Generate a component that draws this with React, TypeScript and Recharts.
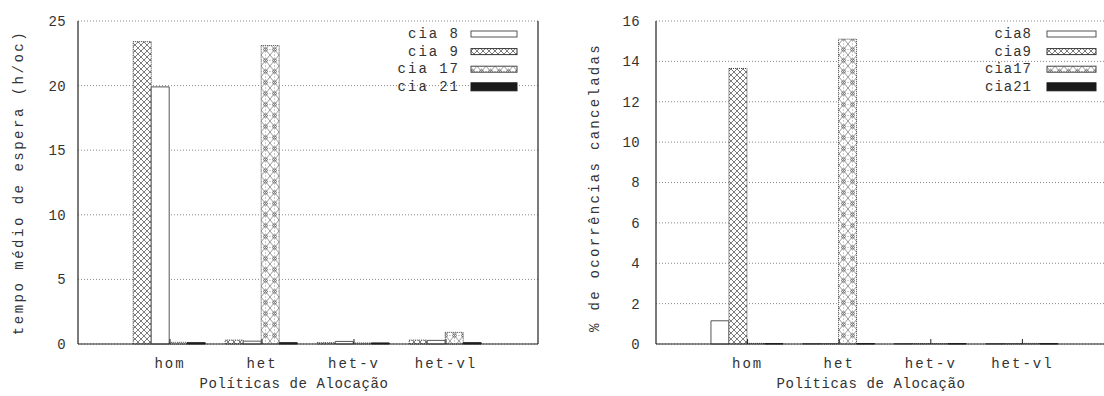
import React from 'react';
import { BarChart, Bar, XAxis, YAxis, CartesianGrid, Legend } from 'recharts';

const FONT = '"Liberation Mono", "Courier New", monospace';
const INK = '#333';
const FRAME = '#222';

const politicas = ['hom', 'het', 'het-v', 'het-vl'];

// tempo médio de espera (h/oc)
const esperaCia8 = [19.9, 0.22, 0.2, 0.28];
const esperaCia9 = [23.4, 0.3, 0.1, 0.3];
const esperaCia17 = [0.13, 23.1, 0.08, 0.9];
const esperaCia21 = [0.1, 0.1, 0.08, 0.1];
const esperaTicks = [0, 5, 10, 15, 20, 25];

// % de ocorrências canceladas
const canceladasCia8 = [1.15, 0.02, 0.02, 0.02];
const canceladasCia9 = [13.65, 0.02, 0.02, 0.02];
const canceladasCia17 = [0.03, 15.1, 0.02, 0.03];
const canceladasCia21 = [0.02, 0.02, 0.02, 0.02];
const canceladasTicks = [0, 2, 4, 6, 8, 10, 12, 14, 16];

const montaTabela = (c8: number[], c9: number[], c17: number[], c21: number[]) =>
  politicas.map((politica, i) => ({ politica, cia8: c8[i], cia9: c9[i], cia17: c17[i], cia21: c21[i] }));

const dadosEspera = montaTabela(esperaCia8, esperaCia9, esperaCia17, esperaCia21);
const dadosCanceladas = montaTabela(canceladasCia8, canceladasCia9, canceladasCia17, canceladasCia21);

const estilo: Record<string, { fill: string; stroke: string; dash?: string }> = {
  cia8: { fill: '#fff', stroke: '#555' },
  cia9: { fill: 'url(#hatch-cia9)', stroke: '#333', dash: '1 1' },
  cia17: { fill: 'url(#hatch-cia17)', stroke: '#444', dash: '1 1' },
  cia21: { fill: '#1a1a1a', stroke: '#1a1a1a' },
};

const legendaOrdem = ['cia8', 'cia9', 'cia17', 'cia21'];

// hachuras usadas pelas barras e pela legenda
function Hachuras() {
  return (
    <svg width={0} height={0} style={{ position: 'absolute' }}>
      <defs>
        <pattern id="hatch-cia9" patternUnits="userSpaceOnUse" width="6" height="6">
          <rect width="6" height="6" fill="#fff" />
          <path d="M0,0 L6,6 M6,0 L0,6" stroke="#444" strokeWidth="0.7" />
        </pattern>
        <pattern id="hatch-cia17" patternUnits="userSpaceOnUse" width="9" height="11">
          <rect width="9" height="11" fill="#fff" />
          <path d="M0,0 L9,11 M9,0 L0,11" stroke="#555" strokeWidth="0.6" />
          <path d="M4.5,0 L4.5,11 M0,5.5 L9,5.5" stroke="#999" strokeWidth="0.5" strokeDasharray="1 1" />
          <circle cx="4.5" cy="5.5" r="1.8" stroke="#444" strokeWidth="0.6" fill="none" />
        </pattern>
      </defs>
    </svg>
  );
}

type LegendaProps = {
  nomes: Record<string, string>;
  textoDir: number;
  amostraX: number;
  amostraW: number;
  espaco: number;
};

function Legenda({ nomes, textoDir, amostraX, amostraW, espaco }: LegendaProps) {
  return (
    <svg width={560} height={100} style={{ display: 'block', overflow: 'visible' }}>
      {legendaOrdem.map((k, i) => {
        const y = 34 + i * 17.6;
        const h = k === 'cia21' ? 8 : 6;
        return (
          <g key={k}>
            <text x={textoDir} y={y} textAnchor="end" dominantBaseline="central" fill={INK}
              fontFamily={FONT} fontSize={14} letterSpacing={espaco}>{nomes[k]}</text>
            <rect x={amostraX} y={y - h / 2} width={amostraW} height={h} fill={estilo[k].fill}
              stroke={estilo[k].stroke} strokeWidth={1} />
          </g>
        );
      })}
    </svg>
  );
}

type PainelProps = {
  dados: any[];
  ordem: string[];
  nomes: Record<string, string>;
  yMax: number;
  ticks: number[];
  eixoW: number;
  direitaW: number;
  tickMargin: number;
  tituloY: string;
  tituloYX: number;
  tituloYDy: number;
  legendaTexto: number;
  legendaAmostra: number;
  legendaAmostraW: number;
  legendaEspaco: number;
  espacoTituloY: number;
};

function Painel(p: PainelProps) {
  const largura = 560;
  const areaW = largura - p.eixoW - p.direitaW;
  const pad = areaW / 10;
  const texto = { fill: INK, fontFamily: FONT, fontSize: 14 };
  return (
    <BarChart width={largura} height={396} data={p.dados} margin={{ top: 21, right: 0, bottom: 22, left: 0 }}
      barCategoryGap="10%" barGap={0}>
      <CartesianGrid vertical={false} stroke="#888" strokeDasharray="1 2" />
      <XAxis dataKey="politica" padding={{ left: pad, right: pad }} height={30} interval={0}
        axisLine={{ stroke: FRAME, strokeWidth: 1.2 }} tickLine={{ stroke: FRAME }} tickSize={-5} tickMargin={19}
        tick={{ ...texto, letterSpacing: 2 }}
        label={(lp: any) => {
          const vb = lp.viewBox;
          return (
            <text x={vb.x + vb.width / 2 - 14} y={vb.y + 44} textAnchor="middle" {...texto} letterSpacing={0.6}>
              Políticas de Alocação
            </text>
          );
        }} />
      <XAxis xAxisId="topo" orientation="top" dataKey="politica" padding={{ left: pad, right: pad }} height={0}
        interval={0} axisLine={{ stroke: FRAME, strokeWidth: 1.2 }} tickLine={{ stroke: FRAME }} tickSize={-5} tick={false} />
      <YAxis domain={[0, p.yMax]} ticks={p.ticks} interval={0} width={p.eixoW}
        axisLine={{ stroke: FRAME, strokeWidth: 1.2 }} tickLine={false} tickSize={0} tickMargin={p.tickMargin}
        tick={{ ...texto, letterSpacing: 0.3 }}
        label={(lp: any) => {
          const vb = lp.viewBox;
          const cy = vb.y + vb.height / 2 + p.tituloYDy;
          return (
            <text x={p.tituloYX} y={cy} transform={`rotate(-90, ${p.tituloYX}, ${cy})`} textAnchor="middle"
              dominantBaseline="central" {...texto} letterSpacing={p.espacoTituloY}>
              {p.tituloY}
            </text>
          );
        }} />
      <YAxis yAxisId="moldura" orientation="right" type="number" domain={[0, p.yMax]} width={p.direitaW}
        axisLine={{ stroke: FRAME, strokeWidth: 1.2 }} tickLine={false} tick={false} />
      <Legend layout="vertical" align="center" verticalAlign="middle"
        wrapperStyle={{ left: 0, top: 0, width: largura, height: 100, pointerEvents: 'none' }}
        content={() => (
          <Legenda nomes={p.nomes} textoDir={p.legendaTexto} amostraX={p.legendaAmostra}
            amostraW={p.legendaAmostraW} espaco={p.legendaEspaco} />
        )} />
      {p.ordem.map((k) => (
        <Bar key={k} dataKey={k} name={p.nomes[k]} fill={estilo[k].fill} stroke={estilo[k].stroke}
          strokeWidth={1} strokeDasharray={estilo[k].dash} isAnimationActive={false} />
      ))}
    </BarChart>
  );
}

export default function App() {
  return (
    <div style={{ position: 'absolute', left: 0, top: 0, width: 1104, height: 396, overflow: 'hidden', background: '#fff' }}>
      <Hachuras />
      <div style={{ position: 'absolute', left: 0, top: 0 }}>
        <Painel dados={dadosEspera} ordem={['cia9', 'cia8', 'cia17', 'cia21']}
          nomes={{ cia8: 'cia 8', cia9: 'cia 9', cia17: 'cia 17', cia21: 'cia 21' }}
          yMax={25} ticks={esperaTicks} eixoW={78} direitaW={22} tickMargin={12}
          tituloY="tempo médio de espera (h/oc)" tituloYX={19} tituloYDy={0} espacoTituloY={2.5}
          legendaTexto={460} legendaAmostra={471} legendaAmostraW={46} legendaEspaco={2} />
      </div>
      <div style={{ position: 'absolute', left: 560, top: 0 }}>
        <Painel dados={dadosCanceladas} ordem={['cia8', 'cia9', 'cia17', 'cia21']}
          nomes={{ cia8: 'cia8', cia9: 'cia9', cia17: 'cia17', cia21: 'cia21' }}
          yMax={16} ticks={canceladasTicks} eixoW={96} direitaW={6} tickMargin={16}
          tituloY="% de ocorrências canceladas" tituloYX={35} tituloYDy={5} espacoTituloY={2.3}
          legendaTexto={472} legendaAmostra={487} legendaAmostraW={49} legendaEspaco={1} />
      </div>
    </div>
  );
}
